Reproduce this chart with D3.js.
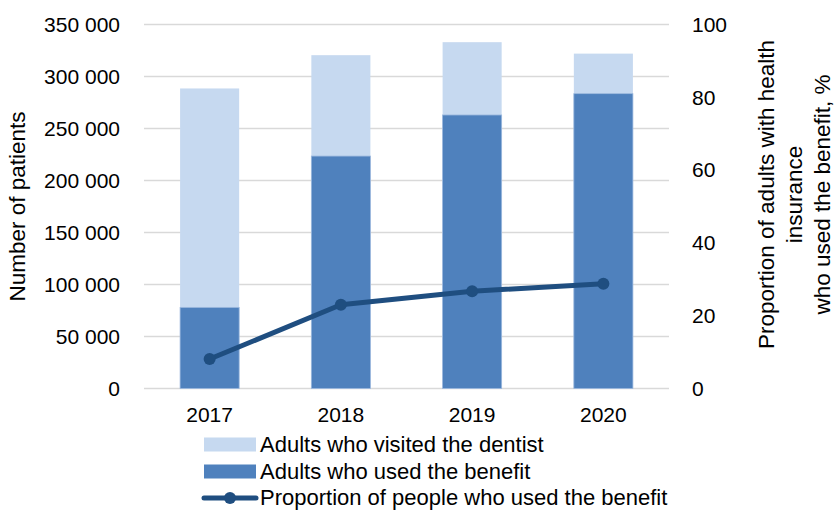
<!DOCTYPE html>
<html>
<head>
<meta charset="utf-8">
<script src="https://cdn.jsdelivr.net/npm/d3@7"></script>
<style>
  html, body { margin: 0; padding: 0; background: #fff; }
  svg { display: block; font-family: "Liberation Sans", "DejaVu Sans", sans-serif; }
</style>
</head>
<body>
<svg id="chart" width="837" height="511"></svg>
<script>
const years = ["2017", "2018", "2019", "2020"];
const visitedDentist = [288500, 320500, 333000, 322000];
const usedBenefit = [78000, 223500, 263000, 283500];
const proportionUsed = [8.1, 23.0, 26.7, 28.8];
const leftTicks = [0, 50000, 100000, 150000, 200000, 250000, 300000, 350000];
const rightTicks = [0, 20, 40, 60, 80, 100];
const legendLabels = ["Adults who visited the dentist", "Adults who used the benefit", "Proportion of people who used the benefit"];
const rightTitleLines = ["Proportion of adults with health", "insurance", "who used the benefit, %"];

const colors = { light: "#C6D9F0", dark: "#4F81BD", line: "#1F4E80", grid: "#D9D9D9", text: "#000" };

const svg = d3.select("#chart");
const margin = { left: 144, right: 837 - 669, top: 24.5, bottom: 511 - 388.5 };
const W = 837, H = 511;
const tickFont = 21, titleFont = 22.5, legendFont = 22;

const x = d3.scaleBand().domain(years).range([margin.left, W - margin.right]).paddingInner(0.55).paddingOuter(0.275);
const yL = d3.scaleLinear().domain([0, 350000]).range([H - margin.bottom, margin.top]);
const yR = d3.scaleLinear().domain([0, 100]).range([H - margin.bottom, margin.top]);

const fmt = v => d3.format(",")(v).replace(/,/g, " ");

// gridlines
svg.append("g").selectAll("line").data(leftTicks).join("line")
  .attr("x1", margin.left).attr("x2", W - margin.right)
  .attr("y1", d => yL(d)).attr("y2", d => yL(d))
  .attr("stroke", colors.grid).attr("stroke-width", 1.3);

// left axis
const gl = svg.append("g").attr("transform", `translate(${margin.left - 24},0)`)
  .call(d3.axisLeft(yL).tickValues(leftTicks).tickFormat(fmt).tickSize(0).tickPadding(0));
gl.select(".domain").remove();
gl.selectAll("text").attr("font-size", tickFont).attr("fill", colors.text).attr("font-family", "Liberation Sans, sans-serif");

// right axis
const gr = svg.append("g").attr("transform", `translate(${W - margin.right + 23},0)`)
  .call(d3.axisRight(yR).tickValues(rightTicks).tickSize(0).tickPadding(0));
gr.select(".domain").remove();
gr.selectAll("text").attr("font-size", tickFont).attr("fill", colors.text).attr("font-family", "Liberation Sans, sans-serif");

// x axis
const gx = svg.append("g").attr("transform", `translate(0,${H - margin.bottom + 13})`)
  .call(d3.axisBottom(x).tickSize(0).tickPadding(6));
gx.select(".domain").remove();
gx.selectAll("text").attr("font-size", tickFont).attr("fill", colors.text).attr("font-family", "Liberation Sans, sans-serif");

// bars: visited (behind), used (front)
svg.append("g").selectAll("rect").data(years).join("rect")
  .attr("x", d => x(d)).attr("width", x.bandwidth())
  .attr("y", (d, i) => yL(visitedDentist[i]))
  .attr("height", (d, i) => yL(0) - yL(visitedDentist[i]))
  .attr("fill", colors.light);
svg.append("g").selectAll("rect").data(years).join("rect")
  .attr("x", d => x(d)).attr("width", x.bandwidth())
  .attr("y", (d, i) => yL(usedBenefit[i]))
  .attr("height", (d, i) => yL(0) - yL(usedBenefit[i]))
  .attr("fill", colors.dark)
  .attr("stroke", "#9DB9DE").attr("stroke-width", 0.8);

// line
const line = d3.line().x((d, i) => x(years[i]) + x.bandwidth() / 2).y(d => yR(d));
svg.append("path").datum(proportionUsed).attr("d", line)
  .attr("fill", "none").attr("stroke", colors.line).attr("stroke-width", 5).attr("stroke-linejoin", "round");
svg.append("g").selectAll("circle").data(proportionUsed).join("circle")
  .attr("cx", (d, i) => x(years[i]) + x.bandwidth() / 2).attr("cy", d => yR(d))
  .attr("r", 6).attr("fill", colors.line);

// left axis title
svg.append("text")
  .attr("transform", `translate(25,${(yL(0) + yL(350000)) / 2}) rotate(-90)`)
  .attr("text-anchor", "middle").attr("font-size", titleFont).attr("fill", colors.text)
  .text("Number of patients");

// right axis title
const rt = svg.append("text")
  .attr("transform", `translate(774,${(yR(0) + yR(100)) / 2 - 12}) rotate(-90)`)
  .attr("text-anchor", "middle").attr("font-size", titleFont).attr("fill", colors.text);
rightTitleLines.forEach((t, i) => {
  rt.append("tspan").attr("x", 0).attr("dy", i === 0 ? 0 : 28).text(t);
});

// legend
const lg = svg.append("g");
const legendX = 204, textX = 260, rowY = [444.5, 471.5, 498];
lg.append("rect").attr("x", legendX).attr("y", rowY[0] - 7).attr("width", 52).attr("height", 14).attr("fill", colors.light);
lg.append("rect").attr("x", legendX).attr("y", rowY[1] - 7).attr("width", 52).attr("height", 14).attr("fill", colors.dark);
lg.append("line").attr("x1", legendX).attr("x2", legendX + 52).attr("y1", rowY[2]).attr("y2", rowY[2])
  .attr("stroke", colors.line).attr("stroke-width", 5).attr("stroke-linecap", "round");
lg.append("circle").attr("cx", legendX + 26).attr("cy", rowY[2]).attr("r", 6).attr("fill", colors.line);
lg.selectAll("text").data(legendLabels).join("text")
  .attr("x", textX).attr("y", (d, i) => rowY[i]).attr("dy", "0.32em")
  .attr("font-size", legendFont).attr("fill", colors.text).text(d => d);
</script>
</body>
</html>
